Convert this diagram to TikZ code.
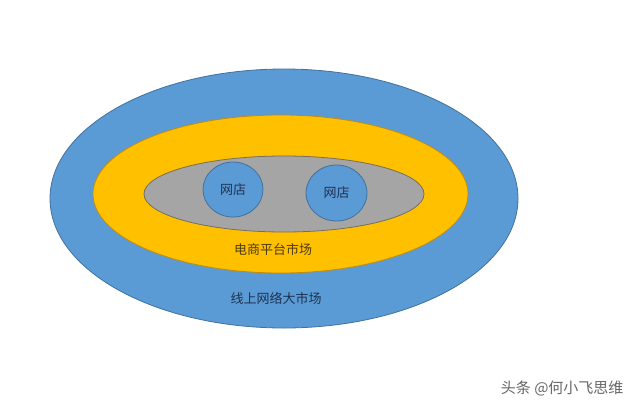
\documentclass[tikz,border=0pt]{standalone}
\usepackage{fontspec}
\newfontfamily\cjk{Noto Sans CJK SC}
\definecolor{netblue}{RGB}{91, 155, 213}
\definecolor{netblueline}{RGB}{65, 113, 156}
\definecolor{mallgold}{RGB}{255, 192, 0}
\definecolor{mallgoldline}{RGB}{190, 140, 20}
\definecolor{shopgray}{RGB}{165, 165, 165}
\definecolor{shopgrayline}{RGB}{120, 110, 90}
\definecolor{labelnavy}{RGB}{30, 50, 80}
\definecolor{labelbrown}{RGB}{80, 60, 10}
\usetikzlibrary{shapes.geometric, positioning}

\begin{document}
\begin{tikzpicture}[x=1pt, y=-1pt,
    ring/.style={ellipse, draw, line width=0.8pt, inner sep=0pt},
    label/.style={font=\cjk\fontsize{13}{13}\selectfont}]
  \useasboundingbox (0, 0) rectangle (640, 410);
  \fill[white] (0, 0) rectangle (640, 410);

  % market layers
  \node[ring, fill=netblue, draw=netblueline, minimum width=468pt, minimum height=259pt] (online) at (284, 198.5) {};
  \node[ring, fill=mallgold, draw=mallgoldline, minimum width=375pt, minimum height=158pt] (platform) at (280.5, 194) {};
  \node[ring, fill=shopgray, draw=shopgrayline, minimum width=280pt, minimum height=76pt] (shops) at (284, 194) {};

  % shops
  \node[ring, fill=netblue, draw=netblueline, minimum width=60pt, minimum height=55pt, label, text=labelnavy] (shopA) at (233, 189.5) {网店};
  \node[ring, fill=netblue, draw=netblueline, minimum width=61pt, minimum height=56pt, label, text=labelnavy] (shopB) at (336.5, 193) {网店};

  \node[label, text=labelbrown] (platformtext) at (273, 249) {电商平台市场};
  \node[label, text=labelnavy] (onlinetext) at (276, 298) {线上网络大市场};

  \node[font=\cjk\fontsize{15}{15}\selectfont, text=gray!80!black, anchor=east] (mark) at (627, 388) {头条 @何小飞思维};
\end{tikzpicture}
\end{document}
